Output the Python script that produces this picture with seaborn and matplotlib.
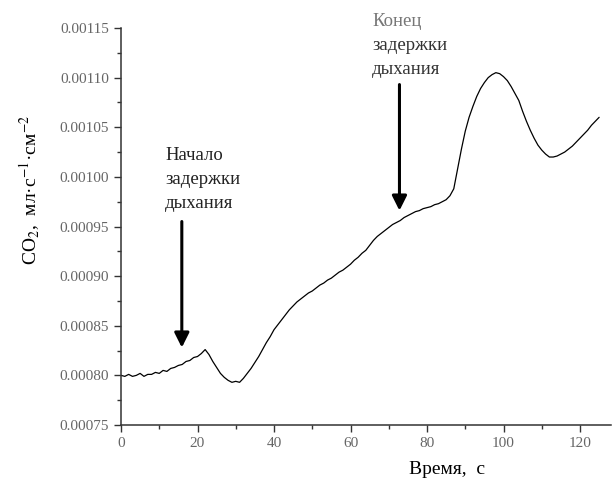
import numpy as np
import pandas as pd
import matplotlib
matplotlib.use("Agg")
import matplotlib.pyplot as plt
from matplotlib.ticker import MultipleLocator
import seaborn as sns

# CO2 trace, one reading per second
time_s = list(range(0, 126))
co2 = [
    0.000800, 0.000799, 0.000801, 0.000799, 0.000800, 0.000802, 0.000799, 0.000801,
    0.000801, 0.000803, 0.000802, 0.000805, 0.000804, 0.000807, 0.000808, 0.000810,
    0.000811, 0.000814, 0.000815, 0.000818, 0.000819, 0.000822, 0.000826, 0.000821,
    0.000814, 0.000808, 0.000802, 0.000798, 0.000795, 0.000793, 0.000794, 0.000793,
    0.000797, 0.000802, 0.000807, 0.000813, 0.000819, 0.000826, 0.000833, 0.000839,
    0.000846, 0.000851, 0.000856, 0.000861, 0.000866, 0.000870, 0.000874, 0.000877,
    0.000880, 0.000883, 0.000885, 0.000888, 0.000891, 0.000893, 0.000896, 0.000898,
    0.000901, 0.000904, 0.000906, 0.000909, 0.000912, 0.000916, 0.000919, 0.000923,
    0.000926, 0.000931, 0.000936, 0.000940, 0.000943, 0.000946, 0.000949, 0.000952,
    0.000954, 0.000956, 0.000959, 0.000961, 0.000963, 0.000965, 0.000966, 0.000968,
    0.000969, 0.000970, 0.000972, 0.000973, 0.000975, 0.000977, 0.000981, 0.000988,
    0.001008, 0.001028, 0.001046, 0.001060, 0.001071, 0.001081, 0.001089, 0.001095,
    0.001100, 0.001103, 0.001105, 0.001104, 0.001101, 0.001097, 0.001091, 0.001084,
    0.001077, 0.001066, 0.001056, 0.001047, 0.001039, 0.001032, 0.001027, 0.001023,
    0.001020, 0.001020, 0.001021, 0.001023, 0.001025, 0.001028, 0.001031, 0.001035,
    0.001039, 0.001043, 0.001047, 0.001052, 0.001056, 0.001060,
]

# arrow markers: (time, tip value, tail value)
start_arrow = (15.9, 0.000828, 0.000955)
end_arrow = (72.8, 0.000966, 0.001093)

start_text = ["Начало", "задержки", "дыхания"]
end_text = ["Конец", "задержки", "дыхания"]

sns.set_theme(style="ticks")
plt.rcParams["font.family"] = ["Liberation Serif", "DejaVu Serif"]
plt.rcParams["mathtext.fontset"] = "stix"

df = pd.DataFrame({"t": time_s, "co2": co2})

fig = plt.figure(figsize=(6.13, 4.82), dpi=100)
ax = fig.add_axes([121 / 613, 1 - 425 / 482, (610.6 - 121) / 613, (425 - 28) / 482])

sns.lineplot(data=df, x="t", y="co2", ax=ax, color="black", lw=0.9)

ax.set_xlim(0, 128)
ax.set_ylim(0.00075, 0.00115)
ax.xaxis.set_major_locator(MultipleLocator(20))
ax.xaxis.set_minor_locator(MultipleLocator(10))
ax.yaxis.set_major_locator(MultipleLocator(0.00005))
ax.yaxis.set_minor_locator(MultipleLocator(0.000025))
ax.yaxis.set_major_formatter(plt.FuncFormatter(lambda v, p: f"{v:.5f}"))

sns.despine(ax=ax)
for s in ["left", "bottom"]:
    ax.spines[s].set_color("#333333")
    ax.spines[s].set_linewidth(1.1)
ax.tick_params(which="major", direction="out", length=5, width=1.0, color="#333333",
               labelsize=11, labelcolor="#666666")
ax.tick_params(which="minor", direction="out", length=3, width=1.0, color="#333333")
ax.set_xlabel("")
ax.set_ylabel("")

fig.text(30 / 613, 1 - 190 / 482, r"CO$_2$,  мл·с$^{-1}$·см$^{-2}$", rotation=90,
         ha="center", va="center", fontsize=14, color="black")
fig.text(447 / 613, 1 - 470 / 482, "Время,  с", ha="center", va="center",
         fontsize=14, color="black")

# arrows
for t, tip, tail in [start_arrow, end_arrow]:
    ax.annotate("", xy=(t, tip), xytext=(t, tail),
                arrowprops=dict(arrowstyle="-|>", lw=2.2, color="black",
                                mutation_scale=22, shrinkA=0, shrinkB=0))

# annotation texts
for i, line in enumerate(start_text):
    fig.text(165 / 613, 1 - (155 + 24 * i) / 482, line, ha="left", va="center",
             fontsize=13.5, color="#222222")
for i, line in enumerate(end_text):
    fig.text(372 / 613, 1 - (22 + 24 * i) / 482, line, ha="left", va="center",
             fontsize=13.5, color="#777777" if i == 0 else "#333333")

fig.savefig("out.png", dpi=100)
